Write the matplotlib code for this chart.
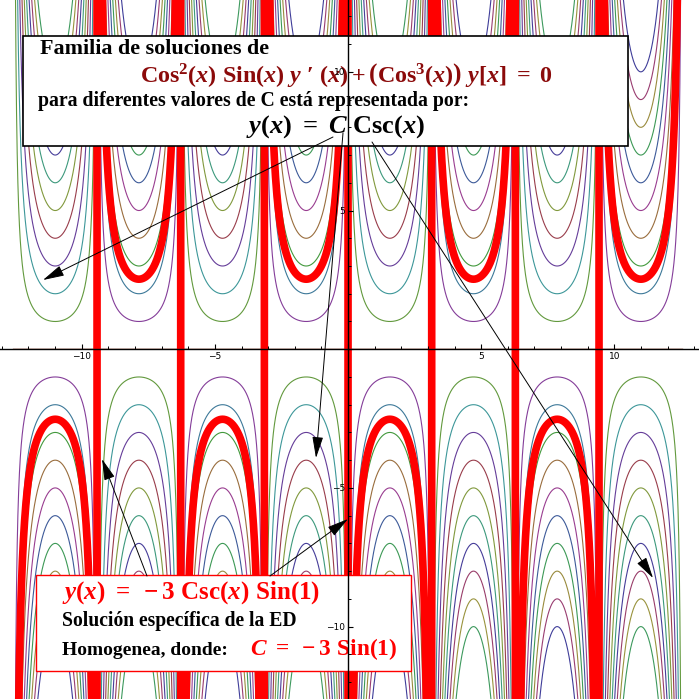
import numpy as np
import matplotlib
matplotlib.use("Agg")
import matplotlib.pyplot as plt
from matplotlib.colors import hsv_to_rgb
from matplotlib.ticker import MultipleLocator, FuncFormatter
from matplotlib.patches import Rectangle

# family parameter values and the particular solution
c_values = [-10, -9, -8, -7, -6, -5, -4, -3, -2, -1, 0, 1, 2, 3, 4, 5, 6, 7, 8, 9, 10]
c_special = -3 * np.sin(1)
x_min, x_max = -4 * np.pi, 4 * np.pi

# mathematica default style hues
hues = [(0.67 + 0.236068 * i) % 1 for i in range(len(c_values))]

plt.rcParams['mathtext.fontset'] = 'custom'
plt.rcParams['mathtext.rm'] = 'Liberation Serif:bold'
plt.rcParams['mathtext.it'] = 'Liberation Serif:italic:bold'
plt.rcParams['mathtext.bf'] = 'Liberation Serif:bold'

W = 699
fig = plt.figure(figsize=(6.99, 6.99), dpi=100)
ax = fig.add_axes([0, 0, 1, 1])
ax.set_xlim(-13.07, 13.18)
ax.set_ylim(-12.61, 12.59)

x = np.linspace(x_min + 1e-3, x_max - 1e-3, 8000)
for c, h in zip(c_values, hues):
    y = c / np.sin(x)
    y[np.abs(y) > 30] = np.nan
    ax.plot(x, y, color=hsv_to_rgb((h, 0.6, 0.6)), lw=0.8, zorder=2)

# particular solution, not split at the asymptotes
ax.plot(x, c_special / np.sin(x), color='red', lw=5.5, zorder=3)

# axes through the origin
for s in ['top', 'right']:
    ax.spines[s].set_visible(False)
ax.spines['left'].set_position(('data', 0))
ax.spines['bottom'].set_position(('data', 0))
for s in ['left', 'bottom']:
    ax.spines[s].set_zorder(10)
    ax.spines[s].set_linewidth(1.0)
ax.xaxis.set_zorder(10)
ax.yaxis.set_zorder(10)
ax.xaxis.set_major_locator(MultipleLocator(5))
ax.xaxis.set_minor_locator(MultipleLocator(1))
ax.yaxis.set_major_locator(MultipleLocator(5))
ax.yaxis.set_minor_locator(MultipleLocator(1))
fmt = FuncFormatter(lambda v, p: '' if abs(v) < 1e-9 else ('\u2212' + '%d' % abs(v) if v < 0 else '%d' % v))
ax.xaxis.set_major_formatter(fmt)
ax.yaxis.set_major_formatter(fmt)
ax.tick_params(which='major', direction='in', length=3.5, width=0.8, labelsize=6.5, pad=2)
ax.tick_params(which='minor', direction='in', length=2, width=0.7)


def P(px, py):
    return (px / W, 1 - py / W)


serif = dict(family='Liberation Serif', weight='bold', va='baseline', zorder=6, transform=ax.transAxes)

# upper box
ax.add_patch(Rectangle(P(23, 146), 605 / W, 110 / W, transform=ax.transAxes,
                       facecolor='white', edgecolor='black', lw=1.2, zorder=5))
ax.text(*P(40, 54), 'Familia de soluciones de', fontsize=15.8, **serif)
ax.text(*P(140, 82),
        r'$\mathrm{Cos}^{2}(x)\ \mathrm{Sin}(x)\ y\ \prime\ (x) + \left(\mathrm{Cos}^{3}(x)\right)\ y[x]\ =\ 0$',
        transform=ax.transAxes, fontsize=17.3, color='#8b0a0a', va='baseline', zorder=6)
ax.text(*P(38, 106), 'para diferentes valores de C está representada por:', fontsize=14.2, **serif)
ax.text(*P(246, 133), r'$y(x)\ =\ C\ \mathrm{Csc}(x)$', transform=ax.transAxes, fontsize=19,
        color='black', va='baseline', zorder=6)

# lower box
ax.add_patch(Rectangle(P(36, 671), 375 / W, 96 / W, transform=ax.transAxes,
                       facecolor='white', edgecolor='red', lw=1.0, zorder=5))
ax.text(*P(62, 599), r'$y(x)\ =\ -3\ \mathrm{Csc}(x)\ \mathrm{Sin}(1)$', transform=ax.transAxes,
        fontsize=18, color='red', va='baseline', zorder=6)
ax.text(*P(62, 626), 'Solución específica de la ED', fontsize=14.1, **serif)
ax.text(*P(62, 655), 'Homogenea, donde:', fontsize=14.0, **serif)
ax.text(*P(250, 655), r'$C\ =\ -3\ \mathrm{Sin}(1)$', transform=ax.transAxes, fontsize=16.8,
        color='red', va='baseline', zorder=6)

# arrows
arrows = [((333, 137), (43, 280)), ((343, 133), (316, 458)), ((372, 142), (653, 578)),
          ((147, 576), (102, 459)), ((270, 576), (348, 519))]
for start, tip in arrows:
    ax.annotate('', xy=P(*tip), xytext=P(*start), xycoords='axes fraction', textcoords='axes fraction',
                arrowprops=dict(arrowstyle='-|>,head_length=1.1,head_width=0.28', color='black',
                                lw=0.7, mutation_scale=12, shrinkA=0, shrinkB=0), zorder=7)

fig.savefig('out.png', dpi=100)
